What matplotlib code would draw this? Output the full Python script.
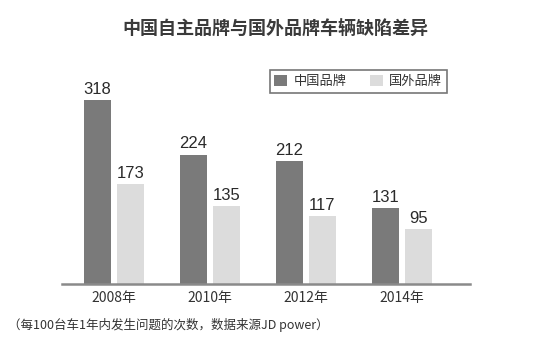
import matplotlib.pyplot as plt
import numpy as np

plt.rcParams['font.family'] = ['Noto Sans CJK SC', 'DejaVu Sans']

years = ['2008年', '2010年', '2012年', '2014年']
china = [318, 224, 212, 131]
foreign = [173, 135, 117, 95]
series_names = ['中国品牌', '国外品牌']

dark = '#7a7a7a'
light = '#dcdcdc'

fig = plt.figure(figsize=(5.5, 3.44), dpi=100)
ax = fig.add_axes([62/550, 60/344, 408/550, 204/344])

x = np.arange(len(years))
w = 0.28
b1 = ax.bar(x - 0.172, china, w, color=dark, label=series_names[0])
b2 = ax.bar(x + 0.172, foreign, w, color=light, label=series_names[1])

# value labels above bars
for bars, vals in ((b1, china), (b2, foreign)):
    for r, v in zip(bars, vals):
        ax.text(r.get_x() + r.get_width()/2, v + 6, str(v), ha='center', va='bottom',
                fontsize=12, color='#2a2a2a', family=['Liberation Sans', 'DejaVu Sans'])

ax.set_xlim(-0.54, 3.71)
ax.set_ylim(0, 353)
for s in ['top', 'right', 'left']:
    ax.spines[s].set_visible(False)
ax.spines['bottom'].set_color('#8a8a8a')
ax.spines['bottom'].set_linewidth(1.8)
ax.set_yticks([])
ax.set_xticks(x)
ax.set_xticklabels(years, fontsize=10, color='#333333')
ax.tick_params(axis='x', length=0, pad=5)

leg = ax.legend(loc='upper left', bbox_to_anchor=(201/408, 1.08), ncol=2, frameon=True,
                fancybox=False, edgecolor='#555555', fontsize=9.5, handlelength=0.95,
                handleheight=0.95, columnspacing=1.8, borderpad=0.35, handletextpad=0.5)
leg.get_frame().set_linewidth(1.2)
for t in leg.get_texts():
    t.set_color('#333333')

fig.text(0.5, 1 - 28/344, '中国自主品牌与国外品牌车辆缺陷差异', ha='center', va='center',
         fontsize=13, fontweight='bold', color='#3a3a3a')
fig.text(8/550, 1 - 325/344, '（每100台车1年内发生问题的次数，数据来源JD power）', ha='left',
         va='center', fontsize=9, color='#333333')

fig.savefig('out.png', dpi=100)
